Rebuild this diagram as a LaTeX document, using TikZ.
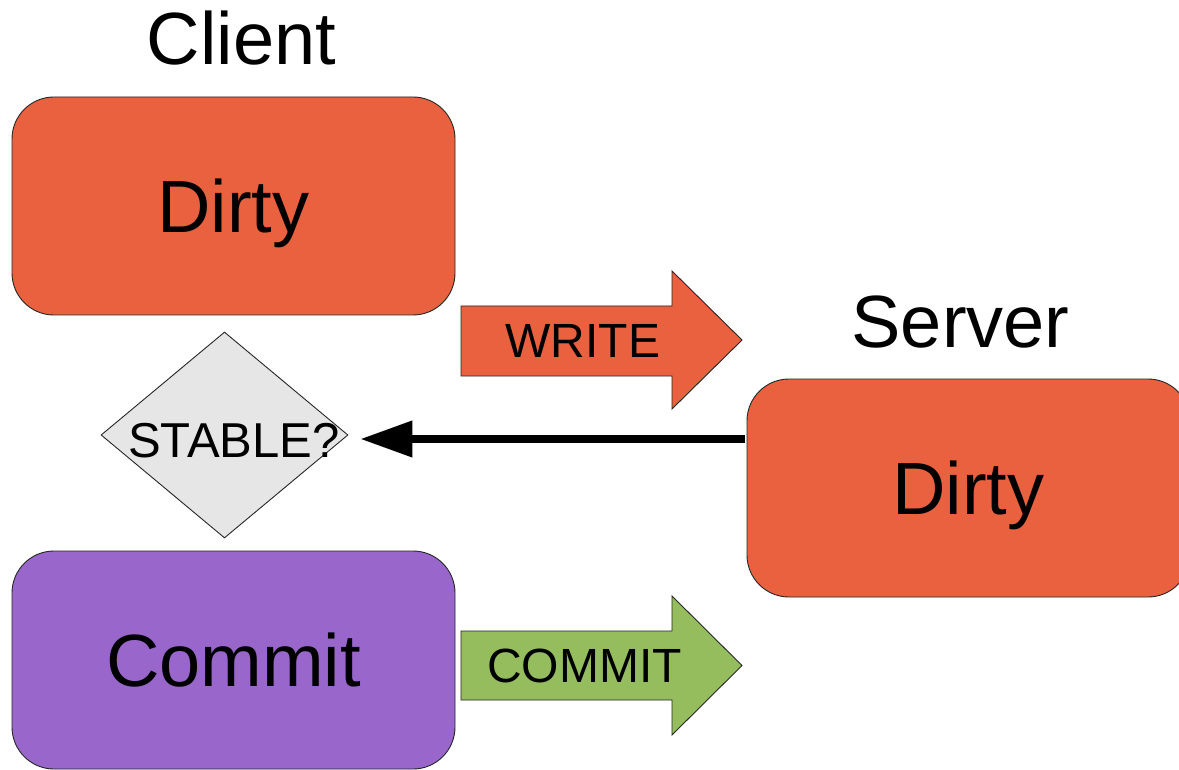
\documentclass[tikz,border=0pt]{standalone}
\usepackage{fontspec}
\setmainfont{Liberation Sans}
\usetikzlibrary{shapes.geometric,arrows.meta}
\definecolor{dirtyc}{HTML}{E9613F}
\definecolor{commitc}{HTML}{9966CC}
\definecolor{stablec}{HTML}{E6E6E6}
\definecolor{greenc}{HTML}{95BD5E}
\tikzset{
  statebox/.style={draw=black!85, line width=0.9pt, rounded corners=42pt,
    minimum width=443pt, minimum height=218pt, inner sep=0pt,
    font=\fontsize{74}{80}\selectfont, text height=52.5pt, text depth=0pt},
  title/.style={font=\fontsize{74}{80}\selectfont, anchor=base, inner sep=0pt},
  arrowlabel/.style={font=\fontsize{48}{52}\selectfont, anchor=base, inner sep=0pt},
  bigarrow/.style={draw=black!85, line width=0.9pt, line join=miter},
  decision/.style={diamond, draw=black!85, line width=0.9pt, fill=stablec,
    minimum width=247pt, minimum height=206pt, inner sep=0pt, aspect=1.2},
}
\begin{document}
\begin{tikzpicture}[x=1pt,y=-1pt]
\useasboundingbox (0,0) rectangle (1179,770);
\clip (0,0) rectangle (1179,770);
% titles
\node[title] (clienttitle) at (241.5,65) {Client};
\node[title] (servertitle) at (960.5,348) {Server};
% boxes
\node[statebox, fill=dirtyc] (cdirty) at (233.5,206) {Dirty};
\node[statebox, fill=commitc] (commit) at (233.5,660) {Commit};
\node[statebox, fill=dirtyc] (sdirty) at (968.5,488) {Dirty};
% decision
\node[decision] (stable) at (224.5,435) {};
\node[font=\fontsize{49}{52}\selectfont, anchor=base, inner sep=0pt] (stabletext) at (234,457) {STABLE?};
% WRITE arrow
\draw[bigarrow, fill=dirtyc] (461,306) -- (672,306) -- (672,271) -- (742,340) -- (672,409) -- (672,376) -- (461,376) -- cycle;
\node[arrowlabel] (write) at (583,357) {WRITE};
% COMMIT arrow
\draw[bigarrow, fill=greenc] (461,631) -- (672,631) -- (672,596) -- (742,665.5) -- (672,735) -- (672,700) -- (461,700) -- cycle;
\node[arrowlabel] (commitlabel) at (584.5,682) {COMMIT};
% reply arrow
\draw[line width=7.5pt, -{Triangle[length=52pt,width=35pt]}]
  ([xshift=-2pt,yshift=49pt]sdirty.west) -- ([xshift=12pt,yshift=-4pt]stable.east);
\end{tikzpicture}
\end{document}
